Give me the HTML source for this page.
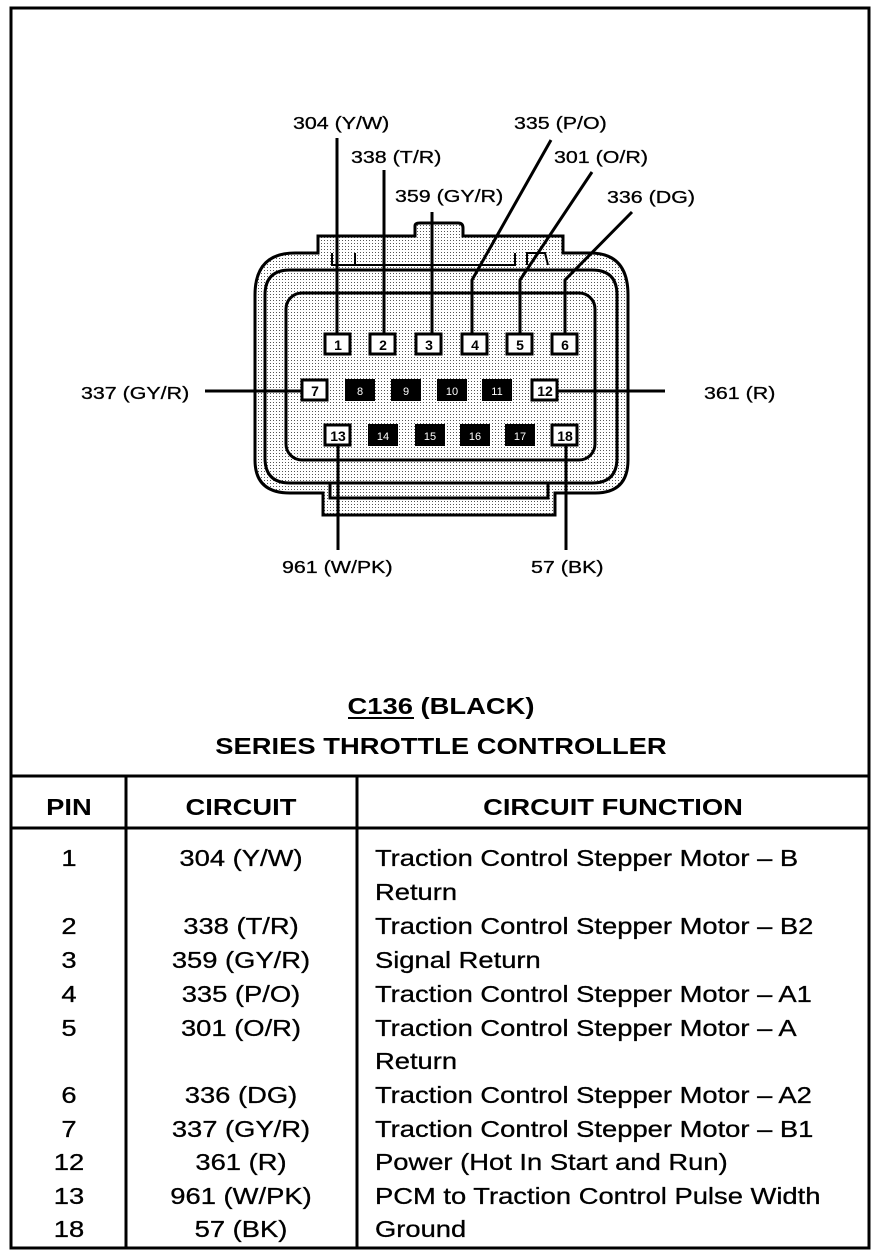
<!DOCTYPE html>
<html><head><style>
body{margin:0;background:#fff;}
svg{display:block;}
text{font-family:"Liberation Sans",sans-serif;}
</style></head><body>
<svg width="896" height="1260" viewBox="0 0 896 1260" xmlns="http://www.w3.org/2000/svg">
<defs>
<pattern id="dots" width="3" height="3" patternUnits="userSpaceOnUse">
<rect width="3" height="3" fill="#fff"/><rect width="1" height="1" fill="#555"/>
</pattern>
</defs>
<rect x="11" y="8" width="858" height="1240" fill="none" stroke="#000" stroke-width="3"/>

<!-- connector body -->
<g stroke="#000" stroke-width="3" fill="url(#dots)">
<path d="M318,253 L318,236 L415,236 L415,226 Q415,223 420,223 L458,223 Q463,223 463,228 L463,236 L563,236 L563,253 L590,253 Q628,253 628,295 L628,460 Q628,493 595,493 L555,493 L555,515 L323,515 L323,493 L290,493 Q255,493 255,460 L255,295 Q255,253 295,253 Z"/>
<path d="M290,270 L592,270 Q617,270 617,295 L617,458 Q617,483 592,483 L330,483 L330,498 L548,498 L548,483" fill="none"/>
<path d="M290,270 Q265,270 265,295 L265,458 Q265,483 290,483 L330,483" fill="none"/>
<path d="M332,253 L332,265 L515,265 L515,253 M355,253 L355,265 M527,265 L527,253 L545,253 L548,265" fill="none" stroke-width="2"/>
<rect x="286" y="293" width="309" height="167" rx="16" fill="url(#dots)"/>
</g>

<!-- leader lines -->
<g stroke="#000" stroke-width="3" fill="none">
<line x1="337" y1="138" x2="337" y2="333"/>
<line x1="384" y1="170" x2="384" y2="333"/>
<line x1="432" y1="212" x2="432" y2="333"/>
<polyline points="551,140 472,280 472,333"/>
<polyline points="592,172 520,280 520,333"/>
<polyline points="632,212 565,280 565,333"/>
<line x1="205" y1="391" x2="302" y2="391"/>
<line x1="557" y1="391" x2="665" y2="391"/>
<line x1="338" y1="446" x2="338" y2="550"/>
<line x1="566" y1="446" x2="566" y2="550"/>
</g>

<!-- pins -->
<g font-size="14" font-weight="bold" text-anchor="middle">
<g stroke="#000" stroke-width="3" fill="#fff">
<rect x="325" y="334" width="25" height="20"/><rect x="370" y="334" width="25" height="20"/>
<rect x="416" y="334" width="25" height="20"/><rect x="462" y="334" width="25" height="20"/>
<rect x="507" y="334" width="25" height="20"/><rect x="552" y="334" width="25" height="20"/>
<rect x="302" y="380" width="25" height="20"/><rect x="532" y="380" width="25" height="20"/>
<rect x="325" y="425" width="25" height="20"/><rect x="552" y="425" width="25" height="20"/>
</g>
<g fill="#000">
<rect x="345" y="379" width="30" height="22"/><rect x="391" y="379" width="30" height="22"/>
<rect x="437" y="379" width="30" height="22"/><rect x="482" y="379" width="30" height="22"/>
<rect x="368" y="424" width="30" height="22"/><rect x="415" y="424" width="30" height="22"/>
<rect x="460" y="424" width="30" height="22"/><rect x="505" y="424" width="30" height="22"/>
</g>
<g fill="#000">
<text x="338" y="350">1</text><text x="383" y="350">2</text><text x="429" y="350">3</text>
<text x="475" y="350">4</text><text x="520" y="350">5</text><text x="565" y="350">6</text>
<text x="315" y="396">7</text><text x="545" y="396">12</text>
<text x="338" y="441">13</text><text x="565" y="441">18</text>
</g>
<g fill="#fff" font-size="11" font-weight="normal">
<text x="360" y="395">8</text><text x="406" y="395">9</text>
<text x="452" y="395">10</text><text x="497" y="395">11</text>
<text x="383" y="440">14</text><text x="430" y="440">15</text>
<text x="475" y="440">16</text><text x="520" y="440">17</text>
</g>
</g>

<!-- labels -->
<g font-size="18" fill="#000" stroke="#000" stroke-width="0.3">
<text x="293" y="129" transform="matrix(1.19,0,0,1,-55.67,0)">304 (Y/W)</text>
<text x="351" y="163" transform="matrix(1.19,0,0,1,-66.69,0)">338 (T/R)</text>
<text x="395" y="202" transform="matrix(1.19,0,0,1,-75.05,0)">359 (GY/R)</text>
<text x="514" y="129" transform="matrix(1.19,0,0,1,-97.66,0)">335 (P/O)</text>
<text x="554" y="163" transform="matrix(1.19,0,0,1,-105.26,0)">301 (O/R)</text>
<text x="607" y="203" transform="matrix(1.19,0,0,1,-115.33,0)">336 (DG)</text>
<text x="81" y="399" transform="matrix(1.19,0,0,1,-15.39,0)">337 (GY/R)</text>
<text x="704" y="399" transform="matrix(1.19,0,0,1,-133.76,0)">361 (R)</text>
<text x="282" y="573" transform="matrix(1.19,0,0,1,-53.58,0)">961 (W/PK)</text>
<text x="531" y="573" transform="matrix(1.19,0,0,1,-100.89,0)">57 (BK)</text>
</g>

<g font-size="23" font-weight="bold" text-anchor="middle" fill="#000">
<text x="441" y="714" transform="matrix(1.19,0,0,1,-83.79,0)">C136 (BLACK)</text>
<line x1="348" y1="718" x2="414" y2="718" stroke="#000" stroke-width="2"/>
<text x="441" y="754" transform="matrix(1.19,0,0,1,-83.79,0)">SERIES THROTTLE CONTROLLER</text>
</g>

<!-- table -->
<g stroke="#000" stroke-width="3">
<line x1="11" y1="776" x2="869" y2="776"/>
<line x1="11" y1="828" x2="869" y2="828"/>
<line x1="126" y1="776" x2="126" y2="1248"/>
<line x1="357" y1="776" x2="357" y2="1248"/>
</g>
<g font-size="23" font-weight="bold" text-anchor="middle" fill="#000">
<text x="69" y="815" transform="matrix(1.19,0,0,1,-13.11,0)">PIN</text>
<text x="241" y="815" transform="matrix(1.19,0,0,1,-45.79,0)">CIRCUIT</text>
<text x="613" y="815" transform="matrix(1.19,0,0,1,-116.47,0)">CIRCUIT FUNCTION</text>
</g>
<g font-size="23" fill="#000" stroke="#000" stroke-width="0.3">
<g text-anchor="middle" transform="matrix(1.19,0,0,1,-13.11,0)">
<text x="69" y="866">1</text><text x="69" y="934">2</text><text x="69" y="968">3</text>
<text x="69" y="1002">4</text><text x="69" y="1036">5</text><text x="69" y="1103">6</text>
<text x="69" y="1137">7</text><text x="69" y="1170">12</text><text x="69" y="1204">13</text>
<text x="69" y="1237">18</text>
</g>
<g text-anchor="middle" transform="matrix(1.19,0,0,1,-45.79,0)">
<text x="241" y="866">304 (Y/W)</text><text x="241" y="934">338 (T/R)</text>
<text x="241" y="968">359 (GY/R)</text><text x="241" y="1002">335 (P/O)</text>
<text x="241" y="1036">301 (O/R)</text><text x="241" y="1103">336 (DG)</text>
<text x="241" y="1137">337 (GY/R)</text><text x="241" y="1170">361 (R)</text>
<text x="241" y="1204">961 (W/PK)</text><text x="241" y="1237">57 (BK)</text>
</g>
<g transform="matrix(1.19,0,0,1,-71.25,0)">
<text x="375" y="866">Traction Control Stepper Motor – B</text>
<text x="375" y="900">Return</text>
<text x="375" y="934">Traction Control Stepper Motor – B2</text>
<text x="375" y="968">Signal Return</text>
<text x="375" y="1002">Traction Control Stepper Motor – A1</text>
<text x="375" y="1036">Traction Control Stepper Motor – A</text>
<text x="375" y="1069">Return</text>
<text x="375" y="1103">Traction Control Stepper Motor – A2</text>
<text x="375" y="1137">Traction Control Stepper Motor – B1</text>
<text x="375" y="1170">Power (Hot In Start and Run)</text>
<text x="375" y="1204">PCM to Traction Control Pulse Width</text>
<text x="375" y="1237">Ground</text>
</g>
</g>
</svg>
</body></html>
